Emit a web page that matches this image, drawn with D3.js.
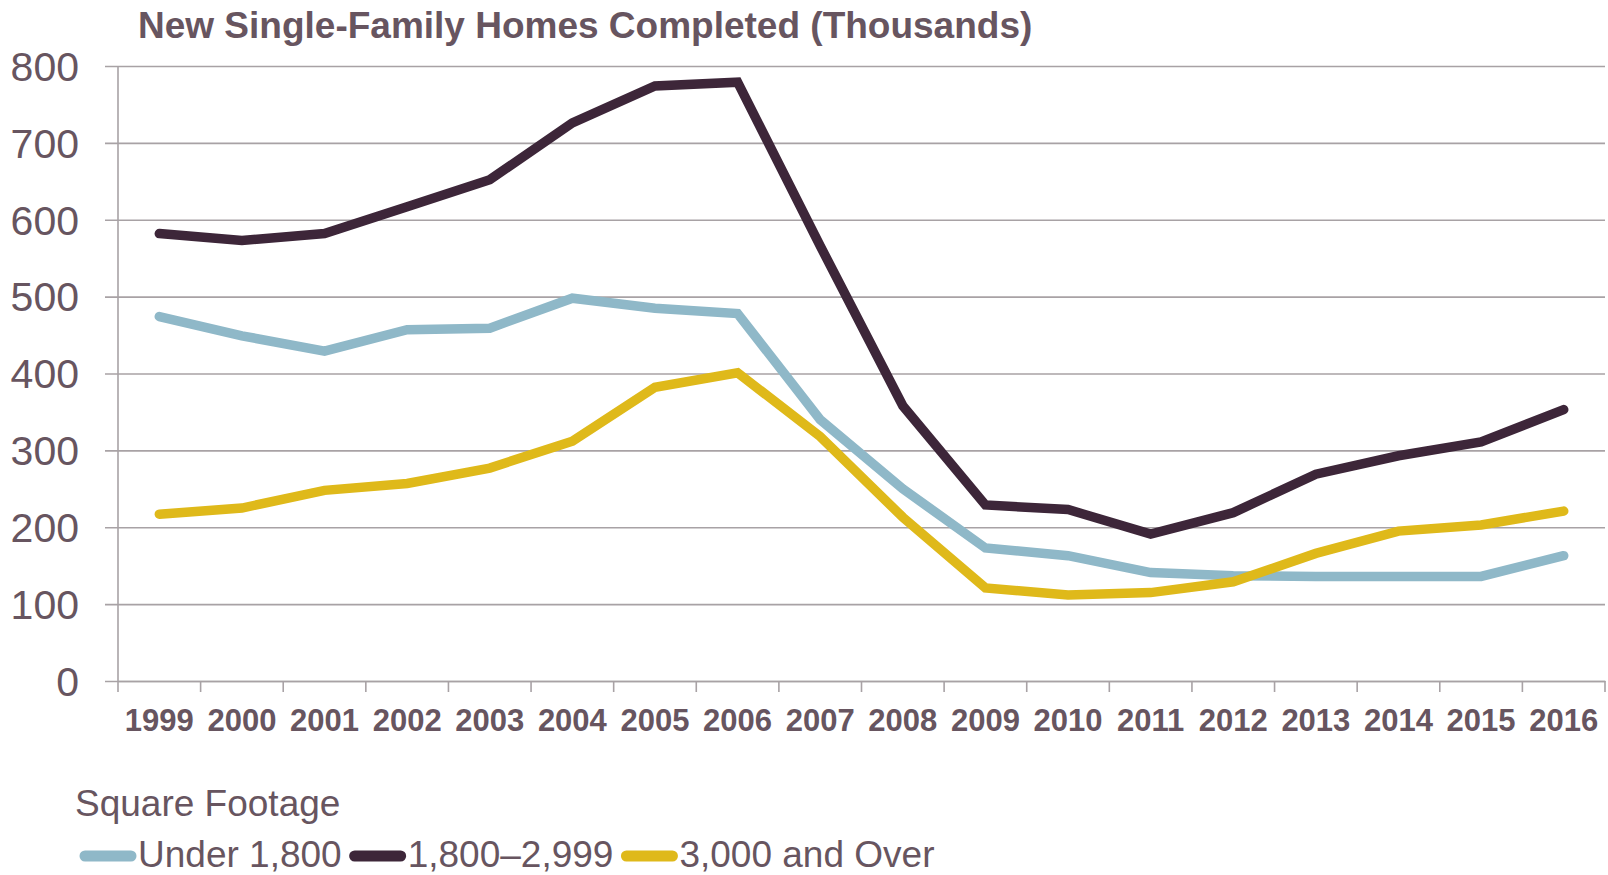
<!DOCTYPE html>
<html>
<head>
<meta charset="utf-8">
<script src="https://cdn.jsdelivr.net/npm/d3@7"></script>
<style>
  body { margin: 0; background: #fff; }
  text { font-family: "Liberation Sans", Arial, sans-serif; fill: #675560; }
</style>
</head>
<body>
<div id="chart"></div>
<script>
// Data
var years = ["1999", "2000", "2001", "2002", "2003", "2004", "2005", "2006", "2007",
    "2008", "2009", "2010", "2011", "2012", "2013", "2014", "2015", "2016"];
var under1800 = [474, 449, 429, 457, 459, 498, 485, 478, 340, 250, 173, 163, 141, 137, 136, 136, 136, 163];
var mid1800to2999 = [582, 573, 582, 617, 652, 726, 774, 779, 566, 358, 229, 223, 191, 219, 269, 293, 311, 353];
var over3000 = [217, 225, 248, 257, 277, 312, 382, 401, 318, 213, 121, 112, 115, 129, 166, 195, 203, 221];
var seriesNames = ["Under 1,800", "1,800\u20132,999", "3,000 and Over"];
var yTicks = [0, 100, 200, 300, 400, 500, 600, 700, 800];

var seriesColors = ["#8fb8c8", "#3d2639", "#dfb91a"];
var allSeries = [under1800, mid1800to2999, over3000];

// Chart area
var svgWidth = 1608;
var svgHeight = 875;
var margin = { top: 66, right: 3, bottom: 194, left: 118 };
var width = svgWidth - margin.left - margin.right;
var height = svgHeight - margin.top - margin.bottom;

var svg = d3.select("#chart")
    .append("svg")
    .attr("width", svgWidth)
    .attr("height", svgHeight);

var chartGroup = svg.append("g")
    .attr("transform", `translate(${margin.left}, ${margin.top})`);

// Scales
var xBandScale = d3.scaleBand()
    .domain(years)
    .range([0, width]);

var yLinearScale = d3.scaleLinear()
    .domain([0, 800])
    .range([height, 0]);

// Gridlines + y axis
var leftAxis = d3.axisLeft(yLinearScale)
    .tickValues(yTicks)
    .tickSize(-width)
    .tickPadding(39);

var yAxisGroup = chartGroup.append("g").call(leftAxis);
yAxisGroup.select(".domain").remove();
yAxisGroup.selectAll(".tick line")
    .attr("x1", -13)
    .attr("stroke", "#a8a2a5")
    .attr("stroke-width", 1.6);
yAxisGroup.selectAll(".tick text")
    .attr("font-size", "41px")
    .attr("font-family", "Liberation Sans, Arial, sans-serif")
    .attr("fill", "#675560")
    .attr("dy", "0.35em");

// Vertical axis line
chartGroup.append("line")
    .attr("x1", 0).attr("x2", 0)
    .attr("y1", 0).attr("y2", height)
    .attr("stroke", "#a8a2a5")
    .attr("stroke-width", 1.6);

// x axis with ticks between categories
var bottomAxis = d3.axisBottom(xBandScale).tickSize(0).tickPadding(28);
var xAxisGroup = chartGroup.append("g")
    .attr("transform", `translate(0, ${height})`)
    .call(bottomAxis);
xAxisGroup.select(".domain")
    .attr("stroke", "#a8a2a5")
    .attr("stroke-width", 1.6);
xAxisGroup.selectAll(".tick text")
    .attr("font-size", "31px")
    .attr("font-weight", "bold")
    .attr("font-family", "Liberation Sans, Arial, sans-serif")
    .attr("fill", "#675560");

var boundaries = years.map(d => xBandScale(d)).concat([width]);
xAxisGroup.selectAll(".sep")
    .data(boundaries)
    .enter()
    .append("line")
    .attr("class", "sep")
    .attr("x1", d => d).attr("x2", d => d)
    .attr("y1", 0).attr("y2", 11)
    .attr("stroke", "#a8a2a5")
    .attr("stroke-width", 1.6);

// Lines
var lineGen = d3.line()
    .x((d, i) => xBandScale(years[i]) + xBandScale.bandwidth() / 2)
    .y(d => yLinearScale(d));

chartGroup.selectAll(".series")
    .data(allSeries)
    .enter()
    .append("path")
    .attr("class", "series")
    .attr("d", d => lineGen(d))
    .attr("fill", "none")
    .attr("stroke", (d, i) => seriesColors[i])
    .attr("stroke-width", 9.5)
    .attr("stroke-linecap", "round")
    .attr("stroke-linejoin", "miter");

// Title
svg.append("text")
    .attr("x", 138)
    .attr("y", 38)
    .attr("font-size", "37px")
    .attr("font-weight", "bold")
    .text("New Single-Family Homes Completed (Thousands)");

// Legend
svg.append("text")
    .attr("x", 75)
    .attr("y", 816)
    .attr("font-size", "37px")
    .text("Square Footage");

var legendX = 80;
seriesNames.forEach(function (name, i) {
    svg.append("line")
        .attr("x1", legendX + 5).attr("x2", legendX + 51)
        .attr("y1", 856).attr("y2", 856)
        .attr("stroke", seriesColors[i])
        .attr("stroke-width", 11)
        .attr("stroke-linecap", "round");
    var label = svg.append("text")
        .attr("x", legendX + 58)
        .attr("y", 867)
        .attr("font-size", "37px")
        .text(name);
    legendX = legendX + 58 + label.node().getComputedTextLength() + 8;
});
</script>
</body>
</html>
